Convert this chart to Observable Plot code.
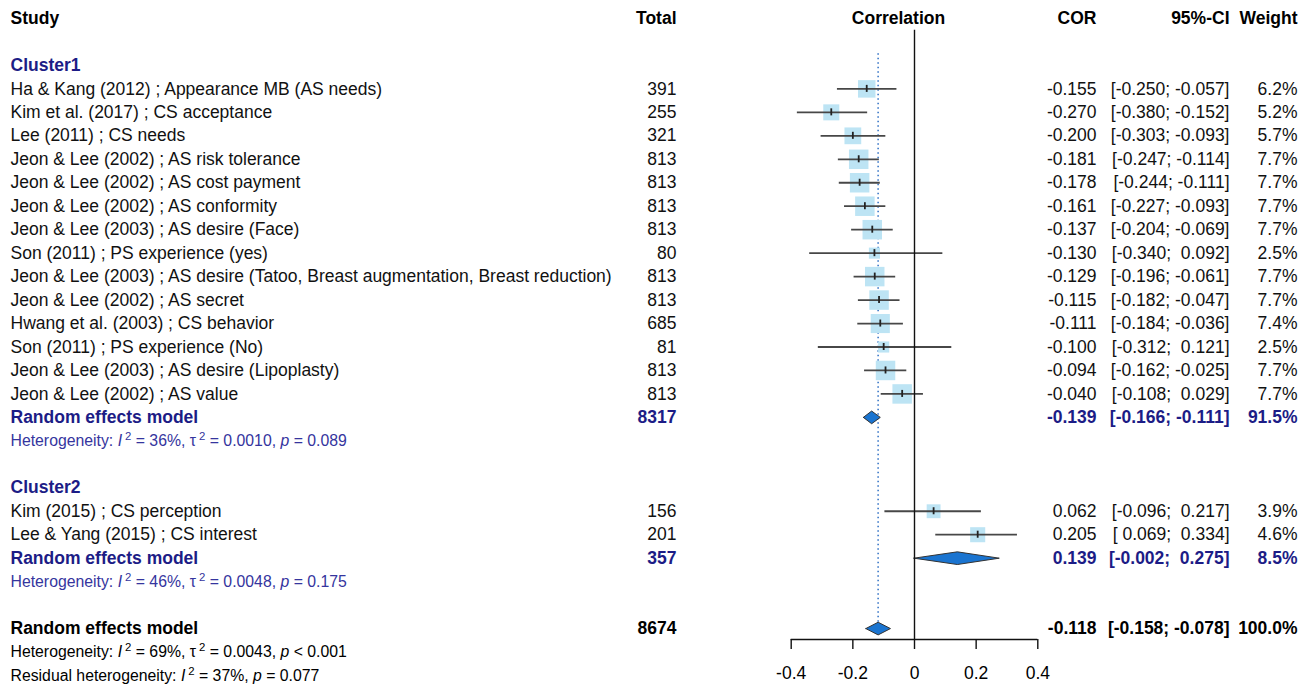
<!DOCTYPE html>
<html>
<head>
<meta charset="utf-8">
<script src="https://cdn.jsdelivr.net/npm/d3@7"></script>
<script src="https://cdn.jsdelivr.net/npm/@observablehq/plot@0.6"></script>
<style>
  html, body { margin: 0; padding: 0; background: #fff; overflow: hidden; }
  #chart svg text { white-space: pre; }
</style>
</head>
<body>
<div id="chart"></div>
<script>
// ---------------- DATA ----------------
const clusterNames = ["Cluster1", "Cluster2"];
const studyLabels = [
  "Ha & Kang (2012) ; Appearance MB (AS needs)",
  "Kim et al. (2017) ; CS acceptance",
  "Lee (2011) ; CS needs",
  "Jeon & Lee (2002) ; AS risk tolerance",
  "Jeon & Lee (2002) ; AS cost payment",
  "Jeon & Lee (2002) ; AS conformity",
  "Jeon & Lee (2003) ; AS desire (Face)",
  "Son (2011) ; PS experience (yes)",
  "Jeon & Lee (2003) ; AS desire (Tatoo, Breast augmentation, Breast reduction)",
  "Jeon & Lee (2002) ; AS secret",
  "Hwang et al. (2003) ; CS behavior",
  "Son (2011) ; PS experience (No)",
  "Jeon & Lee (2003) ; AS desire (Lipoplasty)",
  "Jeon & Lee (2002) ; AS value",
  "Kim (2015) ; CS perception",
  "Lee & Yang (2015) ; CS interest"
];
const studyCluster = [1,1,1,1,1,1,1,1,1,1,1,1,1,1,2,2];
const studyTotals  = [391,255,321,813,813,813,813,80,813,813,685,81,813,813,156,201];
const studyCor     = [-0.155,-0.270,-0.200,-0.181,-0.178,-0.161,-0.137,-0.130,-0.129,-0.115,-0.111,-0.100,-0.094,-0.040,0.062,0.205];
const studyLower   = [-0.250,-0.380,-0.303,-0.247,-0.244,-0.227,-0.204,-0.340,-0.196,-0.182,-0.184,-0.312,-0.162,-0.108,-0.096,0.069];
const studyUpper   = [-0.057,-0.152,-0.093,-0.114,-0.111,-0.093,-0.069,0.092,-0.061,-0.047,-0.036,0.121,-0.025,0.029,0.217,0.334];
const studyWeight  = [6.2,5.2,5.7,7.7,7.7,7.7,7.7,2.5,7.7,7.7,7.4,2.5,7.7,7.7,3.9,4.6];

// subgroup + overall random effects models
const modelLabel    = "Random effects model";
const subgroupTotal = [8317, 357];
const subgroupCor   = [-0.139, 0.139];
const subgroupLower = [-0.166, -0.002];
const subgroupUpper = [-0.111, 0.275];
const subgroupWeight= [91.5, 8.5];
const subgroupHet   = [
  "Heterogeneity: I² = 36%, τ² = 0.0010, p = 0.089",
  "Heterogeneity: I² = 46%, τ² = 0.0048, p = 0.175"
];
const overallTotal  = 8674;
const overallCor    = -0.118;
const overallLower  = -0.158;
const overallUpper  = -0.078;
const overallWeight = 100.0;
const overallHet    = "Heterogeneity: I² = 69%, τ² = 0.0043, p < 0.001";
const residualHet   = "Residual heterogeneity: I² = 37%, p = 0.077";

const headers = ["Study", "Total", "Correlation", "COR", "95%-CI", "Weight"];
const axisTicks = [-0.4, -0.2, 0, 0.2, 0.4];
const axisTickLabels = ["-0.4", "-0.2", "0", "0.2", "0.4"];

// ---------------- LAYOUT (rows) ----------------
const NAVY = "#1c1c86";
const HETBLUE = "#35359e";
const fmt = v => (v < 0 ? "" : " ") + v.toFixed(3);
const ciText = (lo, hi) => "[" + fmt(lo) + "; " + fmt(hi) + "]";

const studies = [], summaries = [], labels = [], hets = [];
let r = 2;
clusterNames.forEach((name, ci) => {
  labels.push({row: r++, text: name});
  studyLabels.forEach((lab, i) => {
    if (studyCluster[i] !== ci + 1) return;
    studies.push({row: r++, label: lab, total: studyTotals[i], est: studyCor[i],
                  lo: studyLower[i], hi: studyUpper[i], w: studyWeight[i]});
  });
  summaries.push({row: r++, label: modelLabel, total: subgroupTotal[ci], est: subgroupCor[ci],
                  lo: subgroupLower[ci], hi: subgroupUpper[ci], w: subgroupWeight[ci], id: "s" + ci});
  hets.push({row: r++, text: subgroupHet[ci], color: HETBLUE});
  r++;
});
summaries.push({row: r++, label: modelLabel, total: overallTotal, est: overallCor,
                lo: overallLower, hi: overallUpper, w: overallWeight, id: "o"});
hets.push({row: r++, text: overallHet, color: "#000"});
hets.push({row: r++, text: residualHet, color: "#000"});
const lastRow = r - 1;

const Y0 = 18, Y1 = 675;
const rowPx = (Y1 - Y0) / lastRow;
const AXIS_ROW = (639 - Y0) / rowPx;
const DIAMOND_H = 0.27;

// diamond polygons
const diamondPts = [];
summaries.forEach(s => {
  [[s.lo, s.row], [s.est, s.row - DIAMOND_H], [s.hi, s.row], [s.est, s.row + DIAMOND_H], [s.lo, s.row]]
    .forEach(([x, y]) => diamondPts.push({id: s.id, x, y}));
});

const col = {study: 10, total: 676, corr: 898, cor: 1096, ci: 1229, weight: 1297};
const FONT = "Liberation Sans, Arial, Helvetica, sans-serif";
const FS = 17.5;
const HET_FS = 15.8;

const textCols = (data, opts) => [
  Plot.text(data, {y: "row", text: "label", frameAnchor: "left", dx: col.study, textAnchor: "start", ...opts}),
  Plot.text(data, {y: "row", text: d => String(d.total), frameAnchor: "left", dx: col.total, textAnchor: "end", ...opts}),
  Plot.text(data, {y: "row", text: d => fmt(d.est).trim(), frameAnchor: "left", dx: col.cor, textAnchor: "end", ...opts}),
  Plot.text(data, {y: "row", text: d => ciText(d.lo, d.hi), frameAnchor: "left", dx: col.ci, textAnchor: "end", ...opts}),
  Plot.text(data, {y: "row", text: d => d.w.toFixed(1) + "%", frameAnchor: "left", dx: col.weight, textAnchor: "end", ...opts})
];

const headerPos = [col.study, col.total, col.corr, col.cor, col.ci, col.weight];
const headerAnchor = ["start", "end", "middle", "end", "end", "end"];
const headerMarks = headers.map((h, i) =>
  Plot.text([h], {y: () => 0, text: d => d, frameAnchor: "left", dx: headerPos[i],
    textAnchor: headerAnchor[i], fontWeight: "bold", fill: "#000", fontSize: FS}));

const chart = Plot.plot({
  width: 1312,
  height: 687,
  marginTop: 0, marginBottom: 0, marginLeft: 0, marginRight: 0,
  style: {fontFamily: FONT, fontSize: FS + "px", background: "#fff", color: "#000"},
  x: {domain: [-0.4, 0.4], range: [790.7, 1037.3], axis: null},
  y: {domain: [0, lastRow], range: [Y0, Y1], axis: null},
  r: {type: "sqrt", domain: [0, 7.7], range: [0, 11]},
  color: {type: "identity"},
  marks: [
    // dotted line at overall estimate
    Plot.ruleX([overallCor], {x: d => d, y1: 1.5, y2: summaries[summaries.length - 1].row - DIAMOND_H,
      stroke: "#3b78c8", strokeWidth: 1.6, strokeDasharray: "1.5,3"}),
    // study squares
    Plot.dot(studies, {x: "est", y: "row", r: "w", symbol: "square", fill: "#bde4f4", stroke: null}),
    // CIs
    Plot.ruleY(studies, {y: "row", x1: "lo", x2: "hi", stroke: "#474747", strokeWidth: 1.8}),
    // estimate ticks
    Plot.ruleX(studies, {x: "est", y1: d => d.row - 0.15, y2: d => d.row + 0.15, stroke: "#222", strokeWidth: 1.8}),
    // diamonds
    Plot.line(diamondPts, {x: "x", y: "y", z: "id", fill: "#1a74d0", stroke: "#333", strokeWidth: 1, curve: "linear"}),
    // zero line
    Plot.ruleX([0], {x: d => d, y1: 0.5, y2: AXIS_ROW, stroke: "#111", strokeWidth: 1.4}),
    // axis
    Plot.ruleY([AXIS_ROW], {y: d => d, x1: d3.min(axisTicks), x2: d3.max(axisTicks), stroke: "#111", strokeWidth: 1.4}),
    Plot.ruleX(axisTicks, {x: d => d, y1: AXIS_ROW, y2: AXIS_ROW + 10 / rowPx, stroke: "#111", strokeWidth: 1.4}),
    Plot.text(axisTicks, {x: d => d, y: AXIS_ROW, dy: 34, text: (d, i) => axisTickLabels[i], fontSize: FS, fill: "#000"}),
    // header
    ...headerMarks,
    // cluster labels
    Plot.text(labels, {y: "row", text: "text", frameAnchor: "left", dx: col.study, textAnchor: "start",
      fontWeight: "bold", fill: NAVY, fontSize: FS}),
    // study rows
    ...textCols(studies, {fill: "#111", fontSize: FS}),
    // summary rows
    ...textCols(summaries.filter(s => s.id !== "o"), {fill: NAVY, fontWeight: "bold", fontSize: FS}),
    ...textCols(summaries.filter(s => s.id === "o"), {fill: "#000", fontWeight: "bold", fontSize: FS}),
    // heterogeneity
    Plot.text(hets, {y: "row", text: "text", frameAnchor: "left", dx: col.study, textAnchor: "start",
      fill: "color", fontSize: HET_FS})
  ]
});

document.getElementById("chart").appendChild(chart);

// italic symbols and superscripts in heterogeneity lines
d3.select(chart).selectAll("text").each(function() {
  const t = this.textContent;
  if (!/^(Heterogeneity|Residual)/.test(t)) return;
  const sel = d3.select(this);
  sel.text(null);
  const parts = t.split(/(I²|τ²|\bp\b)/);
  let pendingDy = 0;
  const add = (txt, attrs = {}) => {
    const ts = sel.append("tspan").text(txt);
    const dy = (attrs.dy || 0) + pendingDy;
    pendingDy = 0;
    if (dy) ts.attr("dy", dy);
    if (attrs.dx) ts.attr("dx", attrs.dx);
    if (attrs.italic) ts.attr("font-style", "italic");
    if (attrs.size) ts.attr("font-size", attrs.size);
  };
  parts.forEach(p => {
    if (!p) return;
    if (p === "I²" || p === "τ²") {
      add(p[0], {italic: p === "I²"});
      add("2", {dy: -6, dx: 3, size: HET_FS * 0.72});
      pendingDy = 6;
    } else if (p === "p") {
      add("p", {italic: true});
    } else {
      add(p);
    }
  });
});
</script>
</body>
</html>
